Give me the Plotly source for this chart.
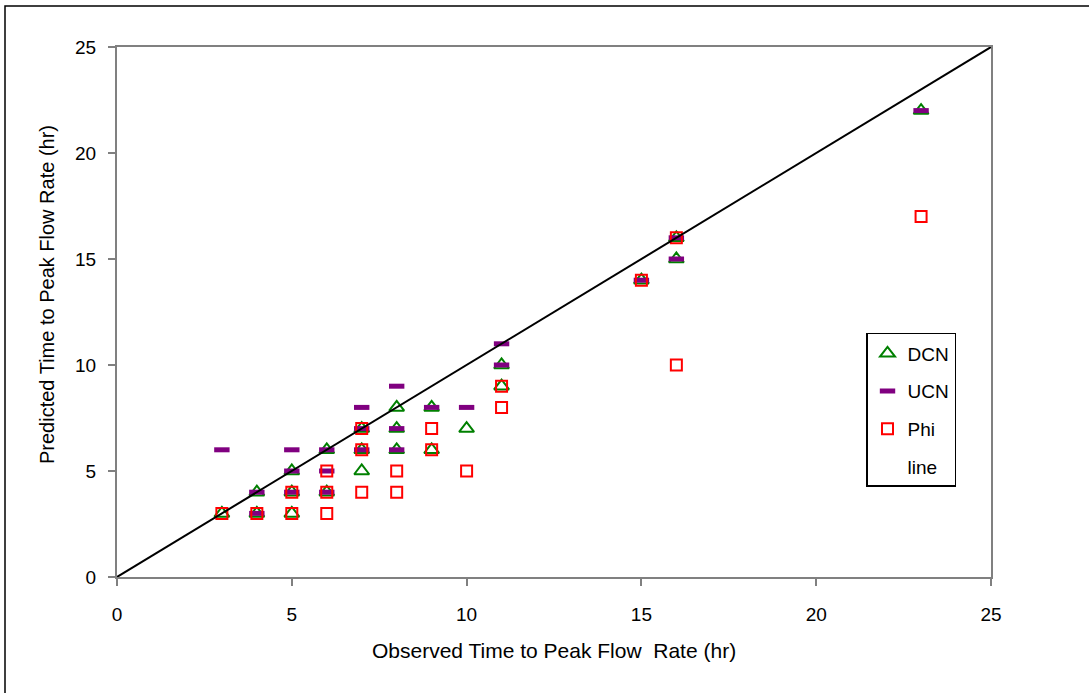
import plotly.graph_objects as go

# Observed vs predicted time to peak flow rate (hr)
dcn_obs = [3, 4, 4, 5, 5, 5, 6, 6, 7, 7, 7, 8, 8, 8, 9, 9, 10, 11, 11, 15, 16, 16, 23]
dcn_pred = [3, 3, 4, 3, 4, 5, 4, 6, 5, 6, 7, 6, 7, 8, 6, 8, 7, 9, 10, 14, 15, 16, 22]

ucn_obs = [3, 4, 4, 5, 5, 5, 6, 6, 6, 7, 7, 7, 8, 8, 8, 9, 10, 11, 11, 15, 16, 16, 23]
ucn_pred = [6, 3, 4, 4, 5, 6, 4, 5, 6, 6, 7, 8, 6, 7, 9, 8, 8, 10, 11, 14, 15, 16, 22]

phi_obs = [3, 4, 5, 5, 6, 6, 6, 7, 7, 7, 8, 8, 9, 9, 10, 11, 11, 15, 16, 16, 23]
phi_pred = [3, 3, 3, 4, 3, 4, 5, 4, 6, 7, 4, 5, 6, 7, 5, 8, 9, 14, 10, 16, 17]

# 1:1 reference line
line_x = [0, 25]
line_y = [0, 25]

tick_vals = [0, 5, 10, 15, 20, 25]

FONT = "Liberation Sans, Arial, sans-serif"
GREY = "#808080"

fig = go.Figure()

fig.add_trace(go.Scatter(
    x=dcn_obs, y=dcn_pred, mode="markers", name="DCN", legendgroup="a",
    marker=dict(symbol="triangle-up-open", size=13, color="#008000",
                line=dict(color="#008000", width=2)),
))
fig.add_trace(go.Scatter(
    x=ucn_obs, y=ucn_pred, mode="markers", name="UCN", legendgroup="b",
    marker=dict(symbol="line-ew", size=11, color="#800080",
                line=dict(color="#800080", width=5)),
))
fig.add_trace(go.Scatter(
    x=phi_obs, y=phi_pred, mode="markers", name="Phi", legendgroup="c",
    marker=dict(symbol="square-open", size=11, color="#FF0000",
                line=dict(color="#FF0000", width=2)),
))
fig.add_trace(go.Scatter(
    x=line_x, y=line_y, mode="lines", name="line", showlegend=False,
    line=dict(color="black", width=2),
))
# legend entry for the line, shown without a symbol
fig.add_trace(go.Scatter(
    x=[None], y=[None], mode="markers", name="line", legendgroup="d",
    marker=dict(size=1, color="rgba(0,0,0,0)"),
))

axis_common = dict(
    range=[0, 25], tickvals=tick_vals, ticks="outside", ticklen=7,
    tickwidth=2, tickcolor=GREY, showline=True, linecolor=GREY, linewidth=2,
    mirror=True, showgrid=False, zeroline=False,
    tickfont=dict(family=FONT, size=19, color="black"),
)

fig.update_layout(
    width=1089, height=693,
    margin=dict(l=117, r=98, t=47, b=116),
    paper_bgcolor="white", plot_bgcolor="white",
    font=dict(family=FONT, color="black"),
    xaxis=dict(**axis_common, ticklabelstandoff=12),
    yaxis=dict(**axis_common, ticklabelstandoff=8),
    showlegend=True,
    legend=dict(
        x=0.857, y=0.4604, xanchor="left", yanchor="top",
        bordercolor="black", borderwidth=1.5, bgcolor="white",
        font=dict(family=FONT, size=19, color="black"),
        traceorder="grouped", tracegroupgap=10, itemwidth=30,
    ),
    annotations=[
        dict(text="Observed Time to Peak Flow  Rate (hr)", xref="paper", yref="paper",
             x=0.5, y=(577 - 650) / 530, xanchor="center", yanchor="middle",
             showarrow=False, font=dict(family=FONT, size=21, color="black")),
        dict(text="Predicted Time to Peak Flow Rate (hr)", xref="paper", yref="paper",
             x=(47 - 117) / 874, y=(577 - 295) / 530, xanchor="center", yanchor="middle",
             textangle=-90, showarrow=False,
             font=dict(family=FONT, size=20, color="black")),
    ],
    shapes=[
        dict(type="rect", xref="paper", yref="paper",
             x0=(5 - 117) / 874, x1=(1100 - 117) / 874,
             y0=(577 - 705) / 530, y1=(577 - 6) / 530,
             line=dict(color="black", width=1.5), layer="below"),
    ],
)

fig.write_html("out.html")
